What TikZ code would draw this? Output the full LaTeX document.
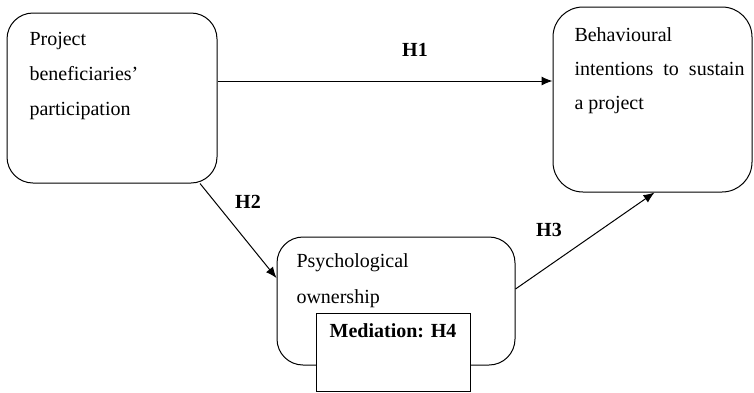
\documentclass[tikz,border=0pt]{standalone}
\usepackage{fontspec}
\setmainfont{Liberation Serif}
\usetikzlibrary{arrows.meta}

\begin{document}
\begin{tikzpicture}[x=1pt, y=-1pt, line width=1pt, >={Latex[length=11pt,width=9pt]},
    box/.style = {draw, rounded corners=26pt, inner sep=0pt},
    txt/.style = {anchor=base west, align=left, inner sep=0pt, font=\fontsize{20}{35}\selectfont},
    hyp/.style = {font=\fontsize{20}{24}\selectfont\bfseries, inner sep=0pt}]
\useasboundingbox (0,0) rectangle (754,392);

    \node[box, minimum width=210, minimum height=170] (part) at (112,98) {};
    \node[box, minimum width=199, minimum height=185, rounded corners=30pt] (behav) at (652.5,99.5) {};
    \node[box, minimum width=238, minimum height=128] (psych) at (396,301) {};
    \node[draw, fill=white, minimum width=154, minimum height=78, inner sep=0pt] (med) at (393,352) {};

    % base anchor of a multi-line node sits on its last line
    \node[txt] (parttxt) at (29,115) {Project\\beneficiaries'\\participation};
    \node[txt, font=\fontsize{20}{34}\selectfont] (behavtxt) at (574,109) {Behavioural\\\makebox[170pt][s]{intentions to sustain}\\a project};
    \node[txt, font=\fontsize{20}{36}\selectfont] (psychtxt) at (296,303) {Psychological\\ownership};
    \node[hyp, anchor=base] (medtxt) at (393,337) {Mediation: H4};

\draw[->] (part.east |- 0,81) -- (behav.west |- 0,81) node[hyp] at (415,50) {H1};
\draw[->] ([xshift=88]part.south) -- ([yshift=23]psych.west) node[hyp] at (248,202) {H2};
\draw[->] ([yshift=12]psych.east) -- ([xshift=2]behav.south) node[hyp] at (549,230) {H3};
\end{tikzpicture}
\end{document}
